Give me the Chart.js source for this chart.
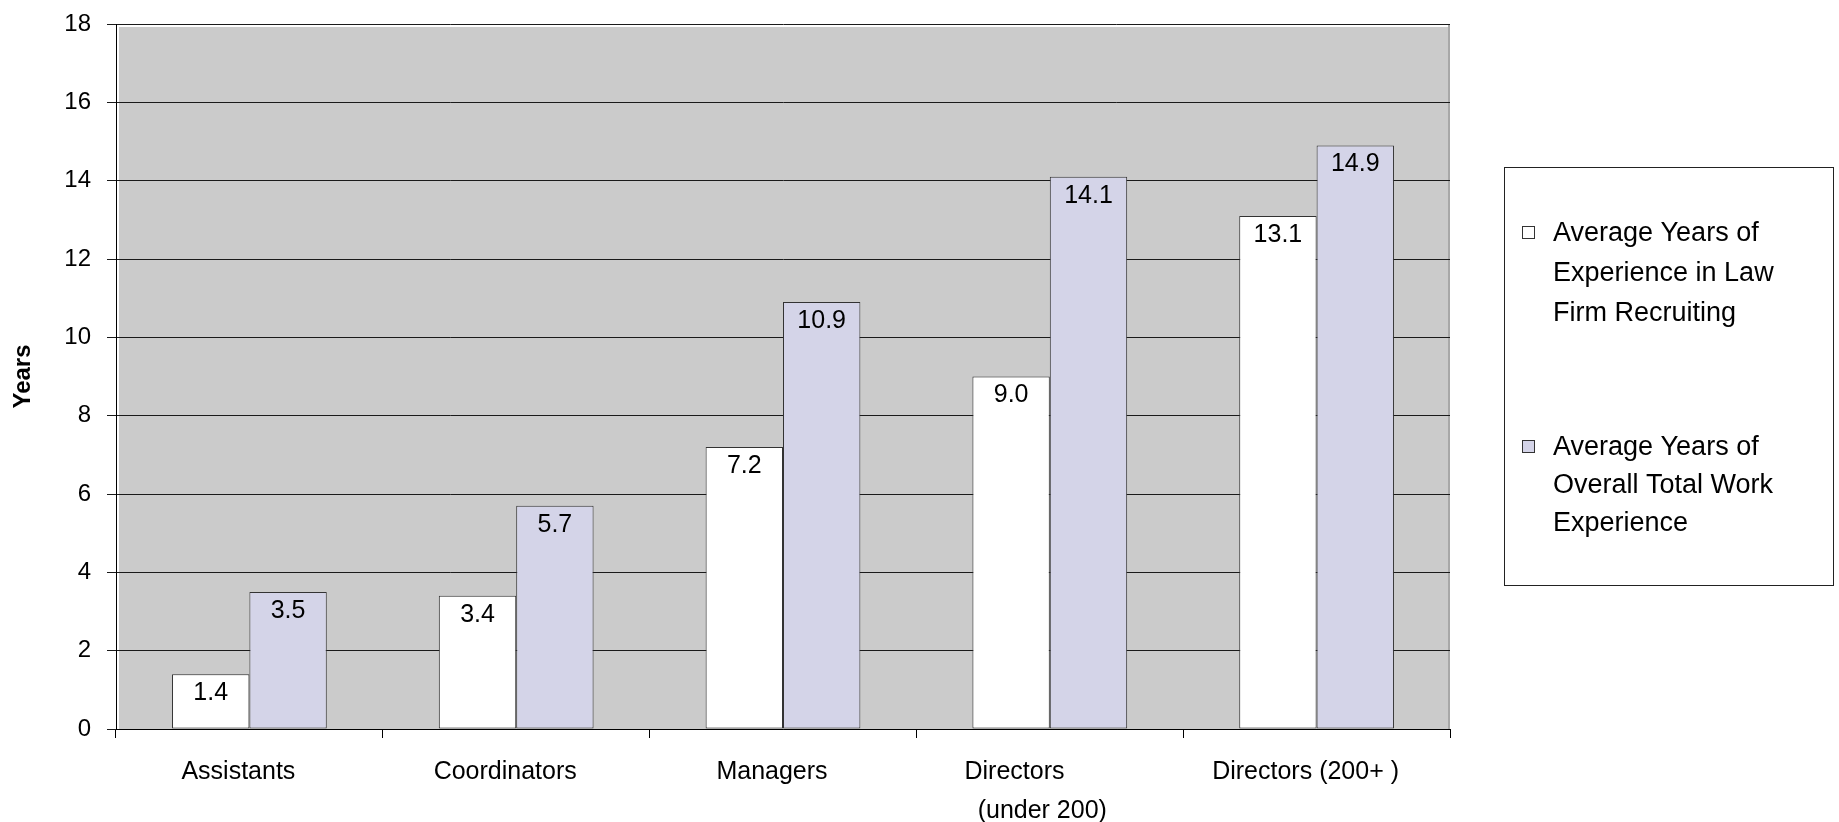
<!DOCTYPE html>
<html>
<head>
<meta charset="utf-8">
<script src="https://cdn.jsdelivr.net/npm/chart.js@4.4.1/dist/chart.umd.min.js"></script>
<style>
  html,body{margin:0;padding:0;background:#fff;}
  #wrap{position:relative;width:1839px;height:822px;}
</style>
</head>
<body>
<div id="wrap"><canvas id="chart"></canvas></div>
<script>
/* ---------- data ---------- */
const categories = ['Assistants', 'Coordinators', 'Managers',
  ['Directors       ', ' (under 200)'], 'Directors (200+ )'];
const lawFirmYears = [1.4, 3.4, 7.2, 9.0, 13.1];
const totalWorkYears = [3.5, 5.7, 10.9, 14.1, 14.9];
const seriesNames = [
  ['Average Years of', 'Experience in Law', 'Firm Recruiting'],
  ['Average Years of', 'Overall Total Work', 'Experience']
];
const yTicks = [0, 2, 4, 6, 8, 10, 12, 14, 16, 18];

const FONT = '"Liberation Sans", Arial, sans-serif';
const fills = ['#ffffff', '#d4d4e8'];
Chart.defaults.font.family = FONT;
Chart.defaults.color = '#000';

/* ---------- plugins ---------- */
// grey plot background
const plotBg = {
  id:'plotBg',
  beforeDraw(chart){
    const {ctx, chartArea:a} = chart;
    ctx.save();
    ctx.fillStyle = '#cbcbcb';
    ctx.fillRect(a.left+3, a.top+3, a.right-a.left-3, a.bottom-a.top-3);
    ctx.strokeStyle = '#a8a8a8'; ctx.lineWidth = 2;
    ctx.beginPath(); ctx.moveTo(a.right-1, a.top); ctx.lineTo(a.right-1, a.bottom); ctx.stroke();
    ctx.restore();
  }
};

// value labels inside bar tops
const valueLabels = {
  id:'valueLabels',
  afterDatasetsDraw(chart){
    const ctx = chart.ctx;
    ctx.save();
    ctx.font = '25px ' + FONT;
    ctx.fillStyle = '#000';
    ctx.textAlign = 'center';
    ctx.textBaseline = 'middle';
    chart.data.datasets.forEach((ds,i)=>{
      chart.getDatasetMeta(i).data.forEach((bar,j)=>{
        ctx.fillText(ds.data[j].toFixed(1), bar.x, bar.y + 19);
      });
    });
    ctx.restore();
  }
};

// boxed legend with wrapped names
const boxLegend = {
  id:'boxLegend',
  afterDraw(chart){
    const ctx = chart.ctx;
    const bx = 1504, by = 167, bw = 329, bh = 418;
    const starts = [234, 448], steps = [40, 38];
    ctx.save();
    ctx.strokeStyle = '#222'; ctx.lineWidth = 1;
    ctx.strokeRect(bx+0.5, by+0.5, bw, bh);
    ctx.font = '27px ' + FONT;
    ctx.textBaseline = 'middle';
    seriesNames.forEach((lines,i)=>{
      const y0 = starts[i];
      ctx.fillStyle = fills[i];
      ctx.fillRect(1522, y0-8, 13, 13);
      ctx.strokeStyle = '#333';
      ctx.strokeRect(1522.5, y0-7.5, 12, 12);
      ctx.fillStyle = '#000';
      lines.forEach((t,k)=> ctx.fillText(t, 1553, y0 + k*steps[i]));
    });
    ctx.restore();
  }
};

/* ---------- chart ---------- */
new Chart(document.getElementById('chart').getContext('2d'), {
  type:'bar',
  data:{
    labels:categories,
    datasets:[
      { label:seriesNames[0].join(' '), data:lawFirmYears, backgroundColor:fills[0],
        borderColor:'#333', borderWidth:1, borderSkipped:false },
      { label:seriesNames[1].join(' '), data:totalWorkYears, backgroundColor:fills[1],
        borderColor:'#333', borderWidth:1, borderSkipped:false }
    ]
  },
  options:{
    responsive:true, maintainAspectRatio:false, animation:false,
    layout:{ padding:{ top:24, right:389, bottom:0, left:0 } },
    datasets:{ bar:{ barPercentage:1, categoryPercentage:0.58 } },
    plugins:{ legend:{display:false}, tooltip:{enabled:false} },
    scales:{
      x:{
        grid:{ drawOnChartArea:false, drawTicks:true, tickLength:9, color:'#000', offset:true },
        border:{ color:'#000', width:1 },
        ticks:{ font:{size:25, lineHeight:1.55}, color:'#000', padding:15,
                maxRotation:0, autoSkip:false, labelOffset:-11 },
        afterFit(s){ s.height = 93; }
      },
      y:{
        min:0, max:18,
        afterBuildTicks(s){ s.ticks = yTicks.map(v=>({value:v})); },
        grid:{ color:'#1a1a1a', tickLength:9, lineWidth:1 },
        border:{ color:'#000', width:1 },
        ticks:{ font:{size:24}, color:'#000', padding:16 },
        title:{ display:true, text:'Years', color:'#000',
                font:{size:24, weight:'bold', lineHeight:1.2}, padding:{top:9, bottom:0} },
        afterFit(s){ s.width = 116; s.paddingTop = 0; s.paddingBottom = 0; }
      }
    }
  },
  plugins:[plotBg, valueLabels, boxLegend]
});
</script>
</body>
</html>
